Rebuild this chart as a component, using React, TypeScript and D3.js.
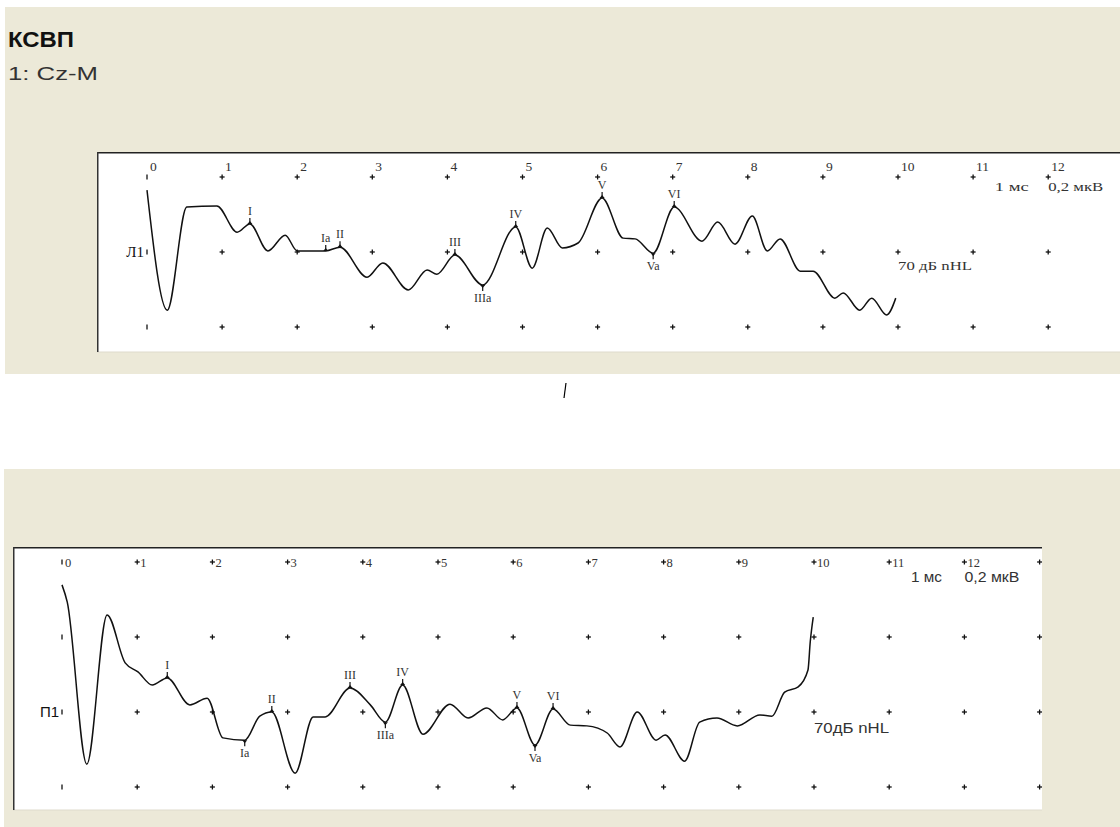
import * as d3 from 'd3';

// ms grid ticks and labels
const msTicks = [0, 1, 2, 3, 4, 5, 6, 7, 8, 9, 10, 11, 12, 13];
const msLabels = ['0', '1', '2', '3', '4', '5', '6', '7', '8', '9', '10', '11', '12'];

// left ear trace (ms, µV)
const leftTimes = [
  0, 0.27, 0.53, 0.93, 1.2, 1.37, 1.61, 1.84, 2.0, 2.38, 2.57, 2.93, 3.14, 3.48, 3.73, 3.86, 4.1,
  4.47, 4.91, 5.13, 5.33, 5.53, 5.74, 6.06, 6.34, 6.5, 6.74, 7.02, 7.39, 7.6, 7.83, 8.06, 8.26,
  8.43, 8.7, 8.87, 9.16, 9.27, 9.49, 9.65, 9.85, 9.97
];
const leftValues = [
  0.165, -0.155, 0.12, 0.123, 0.053, 0.075, 0.003, 0.045, 0.003, 0.003, 0.013, -0.067, -0.029,
  -0.101, -0.048, -0.059, -0.008, -0.088, 0.067, -0.043, 0.064, 0.011, 0.024, 0.144, 0.037, 0.035,
  -0.003, 0.12, 0.029, 0.08, 0.021, 0.096, 0.003, 0.035, -0.051, -0.051, -0.123, -0.109, -0.155,
  -0.123, -0.168, -0.123
];
const leftPeakNames = ['I', 'Ia', 'II', 'III', 'IIIa', 'IV', 'V', 'Va', 'VI'];
const leftPeakTimes = [1.37, 2.38, 2.57, 4.1, 4.47, 4.91, 6.06, 6.74, 7.02];
const leftPeakDirs = ['up', 'up', 'up', 'up', 'down', 'up', 'up', 'down', 'up'];

// right ear trace (ms, µV)
const rightTimes = [
  0, 0.07, 0.33, 0.6, 0.84, 1.01, 1.2, 1.4, 1.7, 1.93, 2.14, 2.43, 2.63, 2.79, 3.1, 3.34, 3.5,
  3.83, 4.1, 4.3, 4.53, 4.8, 5.16, 5.4, 5.65, 5.86, 6.05, 6.29, 6.53, 6.76, 6.98, 7.25, 7.42,
  7.65, 7.9, 8.02, 8.28, 8.48, 8.71, 8.98, 9.28, 9.44, 9.61, 9.79, 9.92, 9.95, 9.99
];
const rightValues = [
  0.339, 0.293, -0.139, 0.259, 0.131, 0.107, 0.072, 0.091, 0.019, 0.037, -0.069, -0.075, -0.011,
  0, -0.163, -0.013, -0.013, 0.064, 0.019, -0.027, 0.072, -0.059, 0.021, -0.016, 0.011, -0.021,
  0.011, -0.088, 0.008, -0.035, -0.037, -0.056, -0.093, 0, -0.075, -0.061, -0.131, -0.027, -0.016,
  -0.037, -0.008, -0.011, 0.053, 0.067, 0.112, 0.187, 0.253
];
const rightPeakNames = ['I', 'Ia', 'II', 'III', 'IIIa', 'IV', 'V', 'Va', 'VI'];
const rightPeakTimes = [1.4, 2.43, 2.79, 3.83, 4.3, 4.53, 6.05, 6.29, 6.53];
const rightPeakDirs = ['up', 'down', 'up', 'up', 'down', 'up', 'up', 'down', 'up'];

const topRows = [0.2, 0, -0.2];
const bottomRows = [0.4, 0.2, 0, -0.2];

interface PanelProps {
  id: string;
  box: { x: number; y: number; w: number; h: number };
  xRange: [number, number];
  yRange: [number, number];
  rows: number[];
  labelRow: number;
  labelDy: number;
  labelSize: number;
  channel: string;
  channelFont: string;
  scaleRow: number;
  scaleDy: number;
  scaleFont: string;
  scaleSize: number;
  msLen: number;
  uvLen: number;
  levelText: string;
  levelDy: number;
  levelLen: number;
  times: number[];
  values: number[];
  peakNames: string[];
  peakTimes: number[];
  peakDirs: string[];
}

function Panel(p: PanelProps) {
  const x = d3.scaleLinear().domain([0, 10]).range(p.xRange);
  const y = d3.scaleLinear().domain([-0.2, 0.2]).range(p.yRange);
  const pts = p.times.map((t, i) => [t, p.values[i]] as [number, number]);
  const line = d3
    .line<[number, number]>()
    .x((d) => x(d[0]))
    .y((d) => y(d[1]))
    .curve(d3.curveMonotoneX);
  const { box } = p;
  const scaleY = y(p.scaleRow) + p.scaleDy;

  return (
    <g>
      <defs>
        <clipPath id={p.id}>
          <rect x={box.x} y={box.y} width={box.w} height={box.h} />
        </clipPath>
      </defs>
      <rect x={box.x} y={box.y} width={box.w} height={box.h} fill="#fff" />
      <line x1={box.x} x2={box.x + box.w} y1={box.y + box.h} y2={box.y + box.h} stroke="#dedbcc" />
      <line x1={box.x} x2={box.x + box.w} y1={box.y + 0.75} y2={box.y + 0.75} stroke="#222" strokeWidth={1.5} />
      <line x1={box.x + 0.75} x2={box.x + 0.75} y1={box.y} y2={box.y + box.h} stroke="#333" strokeWidth={1.5} />
      <g clipPath={`url(#${p.id})`}>
        {/* grid markers */}
        {msTicks.map((t) =>
          p.rows.map((r) => (
            <g key={`${t}-${r}`} stroke="#111" strokeWidth={1.3}>
              <line x1={x(t)} x2={x(t)} y1={y(r) - 2.5} y2={y(r) + 2.5} />
              {t > 0 && <line x1={x(t) - 2.5} x2={x(t) + 2.5} y1={y(r)} y2={y(r)} />}
            </g>
          ))
        )}
        {msLabels.map((lab, i) => (
          <text
            key={`l${lab}`}
            x={x(msTicks[i]) + 3}
            y={y(p.labelRow) + p.labelDy}
            fontFamily="'Liberation Serif', serif"
            fontSize={p.labelSize}
            fill="#333"
          >
            {lab}
          </text>
        ))}
        <text
          x={x(11.29)}
          y={scaleY}
          fontFamily={p.scaleFont}
          fontSize={p.scaleSize}
          fill="#333"
          textLength={p.msLen}
          lengthAdjust="spacingAndGlyphs"
        >
          1 мс
        </text>
        <text
          x={x(12)}
          y={scaleY}
          fontFamily={p.scaleFont}
          fontSize={p.scaleSize}
          fill="#333"
          textLength={p.uvLen}
          lengthAdjust="spacingAndGlyphs"
        >
          0,2 мкВ
        </text>
        <text
          x={x(10)}
          y={y(0) + p.levelDy}
          fontFamily={p.scaleFont}
          fontSize={p.scaleSize}
          fill="#333"
          textLength={p.levelLen}
          lengthAdjust="spacingAndGlyphs"
        >
          {p.levelText}
        </text>
        <text
          x={x(0) - 3}
          y={y(0) + 5}
          textAnchor="end"
          fontFamily={p.channelFont}
          fontSize={15}
          fill="#111"
        >
          {p.channel}
        </text>
        <path d={line(pts) ?? ''} fill="none" stroke="#111" strokeWidth={1.5} />
        {p.peakNames.map((name, i) => {
          const t = p.peakTimes[i];
          const idx = d3.minIndex(p.times, (tt) => Math.abs(tt - t));
          const px = x(t);
          const py = y(p.values[idx]);
          const up = p.peakDirs[i] === 'up';
          return (
            <g key={name}>
              <line x1={px} x2={px} y1={py} y2={up ? py - 6 : py + 6} stroke="#111" strokeWidth={1.2} />
              <path
                d={up ? `M${px - 2.5},${py} L${px + 2.5},${py} L${px},${py - 3}Z` : `M${px - 2.5},${py} L${px + 2.5},${py} L${px},${py + 3}Z`}
                fill="#111"
              />
              <text
                x={px}
                y={up ? py - 9 : py + 17}
                textAnchor="middle"
                fontFamily="'Liberation Serif', serif"
                fontSize={12}
                fill="#333"
              >
                {name}
              </text>
            </g>
          );
        })}
      </g>
    </g>
  );
}

export default function App() {
  const beige = '#ece9d8';
  return (
    <svg
      width={1120}
      height={827}
      style={{ position: 'absolute', left: 0, top: 0, background: '#fff' }}
    >
      <rect x={5} y={7} width={1115} height={367} fill={beige} />
      <rect x={4} y={469} width={1116} height={358} fill={beige} />
      <text
        x={8}
        y={47}
        fontFamily="'Liberation Sans', Arial, sans-serif"
        fontWeight="bold"
        fontSize={22}
        fill="#111"
        textLength={66}
        lengthAdjust="spacingAndGlyphs"
      >
        КСВП
      </text>
      <text
        x={8}
        y={80}
        fontFamily="'Liberation Sans', Arial, sans-serif"
        fontSize={18.5}
        fill="#333"
        textLength={90}
        lengthAdjust="spacingAndGlyphs"
      >
        1: Cz-M
      </text>
      <line x1={566} y1={383} x2={564} y2={398} stroke="#000" strokeWidth={1.2} />

      <Panel
        id="clipTop"
        box={{ x: 97, y: 152, w: 1030, h: 200 }}
        xRange={[147, 898]}
        yRange={[327, 177]}
        rows={topRows}
        labelRow={0.2}
        labelDy={-6}
        labelSize={13.5}
        channel="Л1"
        channelFont="'Liberation Serif', serif"
        scaleRow={0.2}
        scaleDy={14}
        scaleFont="'Liberation Serif', serif"
        scaleSize={12}
        msLen={34}
        uvLen={55}
        levelText="70 дБ nHL"
        levelDy={18}
        levelLen={74}
        times={leftTimes}
        values={leftValues}
        peakNames={leftPeakNames}
        peakTimes={leftPeakTimes}
        peakDirs={leftPeakDirs}
      />
      <Panel
        id="clipBottom"
        box={{ x: 13, y: 547, w: 1029, h: 263 }}
        xRange={[62, 814]}
        yRange={[787, 637]}
        rows={bottomRows}
        labelRow={0.4}
        labelDy={5}
        labelSize={12.5}
        channel="П1"
        channelFont="'Liberation Sans', sans-serif"
        scaleRow={0.4}
        scaleDy={20}
        scaleFont="'Liberation Sans', Arial, sans-serif"
        scaleSize={14}
        msLen={31}
        uvLen={55}
        levelText="70дБ nHL"
        levelDy={21}
        levelLen={75}
        times={rightTimes}
        values={rightValues}
        peakNames={rightPeakNames}
        peakTimes={rightPeakTimes}
        peakDirs={rightPeakDirs}
      />
    </svg>
  );
}
